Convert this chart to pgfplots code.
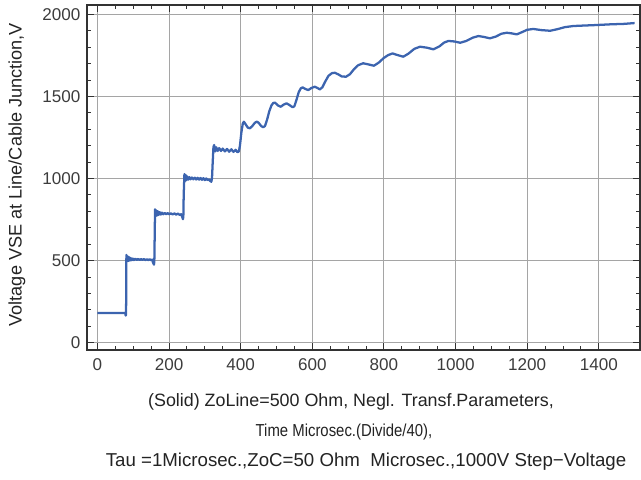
\documentclass[border=0pt]{standalone}
\usepackage{fontspec}
\setmainfont{Liberation Sans}
\usepackage{pgfplots}
\pgfplotsset{compat=1.18}
\definecolor{curve}{RGB}{60,100,175}
\definecolor{framec}{RGB}{50,50,50}
\definecolor{tickc}{RGB}{60,60,60}
\definecolor{gridc}{RGB}{165,165,165}
\definecolor{labc}{RGB}{35,35,35}
\begin{document}
\begin{tikzpicture}
\useasboundingbox (-65.25pt,-96.75pt) rectangle (415.5pt,262.5pt);
\begin{axis}[
  at={(0pt,0pt)}, anchor=south west,
  scale only axis, width=414.75pt, height=258.75pt,
  xmin=-29, xmax=1515, ymin=-45, ymax=2057,
  xtick={0,200,...,1400}, ytick={0,500,...,2000},
  minor x tick num=3, minor y tick num=4,
  tick align=inside, major tick length=5pt, minor tick length=3pt,
  grid=major, major grid style={gridc, line width=0.65pt},
  axis line style={framec, line width=0.9pt},
  tick style={framec, line width=0.65pt},
  /pgf/number format/assume math mode=true,
  /pgf/number format/set thousands separator={},
  ticklabel style={font=\fontsize{12.8}{14}\selectfont, text=tickc},
  xticklabel style={yshift=-3pt},
  yticklabel style={xshift=-1.5pt},
  clip=false,
]
\addplot[curve, line width=1.7pt, line join=round] coordinates {
(0,180)(78,180)(79,165)(80,170)(80.5,300)(81,534)(83,495)(85,525)(87,498)(89,520)(91,500)(93,515)(96,502)(99,512)(102,503)(106,511)(110,504)(114,510)(118,503)(122,509)(126,504)(130,509)(134,503)(138,508)(142,503)(146,508)(150,502)(153,506)(155,490)(157,480)(158,475)(159,495)(160,650)(161,812)
(163,770)(165,805)(167,775)(169,800)(171,778)(174,795)(177,780)(180,792)(184,782)(188,790)(192,782)(196,789)(200,782)(205,788)(210,781)(215,787)(220,780)(225,786)(230,778)(234,782)(237,765)(239,752)(240,770)(241,900)(243,1027)
(245,985)(247,1020)(249,990)(251,1012)(254,993)(257,1008)(260,995)(264,1006)(268,995)(272,1005)(276,994)(280,1004)(284,993)(288,1003)(292,992)(296,1002)(300,990)(304,1000)(308,990)(312,995)(315,985)(318,980)(320,1000)(322,1100)(324,1190)(326,1204)
(329,1165)(332,1190)(336,1168)(340,1185)(345,1168)(350,1182)(356,1165)(362,1180)(368,1163)(374,1178)(380,1162)(386,1175)(391,1160)(395,1165)(398,1200)(402,1280)(406,1335)(409,1346)
(414,1330)(420,1310)(426,1306)(432,1318)(440,1340)(445,1346)(450,1340)(457,1320)(463,1312)(468,1320)(474,1360)(480,1410)(486,1445)(491,1460)(496,1462)
(504,1445)(512,1437)(520,1450)(528,1458)(536,1448)(545,1434)(550,1440)(556,1480)(562,1525)(568,1550)(573,1555)(581,1545)(589,1539)(598,1552)(607,1559)(614,1552)(621,1543)(628,1555)(636,1590)(645,1625)(655,1642)(663,1644)
(672,1635)(682,1622)(694,1620)(705,1635)(716,1665)(728,1690)(742,1702)(757,1695)(772,1687)(785,1705)(800,1735)(812,1752)(824,1762)(838,1752)(854,1742)(868,1760)(885,1790)(901,1803)(920,1797)(938,1787)(955,1805)(968,1828)(980,1838)(996,1835)(1013,1827)(1030,1838)(1048,1858)(1064,1868)(1080,1862)(1096,1854)(1113,1865)(1128,1882)(1143,1888)(1157,1884)(1171,1878)(1186,1892)(1200,1906)(1217,1911)(1240,1904)(1264,1900)(1285,1910)(1305,1922)(1329,1929)(1360,1932)(1394,1935)(1430,1939)(1470,1942)(1500,1947)
};
\end{axis}
\begin{scope}[every node/.style={text=labc, inner sep=0pt}]
\node[font=\fontsize{13.4}{15}\selectfont] at (198pt,-39pt) {(Solid) ZoLine=500 Ohm, Negl. Transf.Parameters,};
\node[font=\fontsize{13}{15}\selectfont, xscale=0.86, transform shape] at (192.75pt,-61.5pt) {Time Microsec.(Divide/40),};
\node[font=\fontsize{14}{15}\selectfont] at (209.25pt,-84pt) {Tau =1Microsec.,ZoC=50 Ohm\ \ Microsec.,1000V Step{\char"2212}Voltage};
\node[rotate=90, font=\fontsize{13.6}{15}\selectfont] at (-52.5pt,131.5pt) {Voltage VSE at Line/Cable Junction,V};
\end{scope}
\end{tikzpicture}
\end{document}
